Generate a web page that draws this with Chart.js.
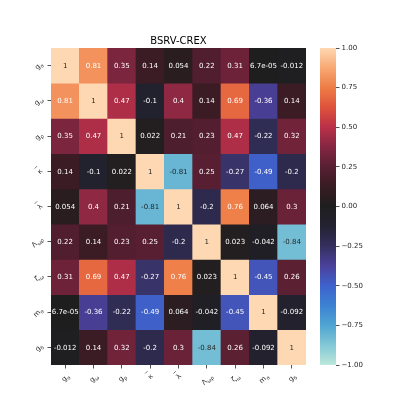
<!DOCTYPE html>
<html>
<head>
<meta charset="utf-8">
<script src="https://cdn.jsdelivr.net/npm/chart.js@4.4.1/dist/chart.umd.min.js"></script>
<style>
	body { margin: 0; background: #fff; }
	#wrap { position: relative; width: 408px; height: 408px; }
	#heat { position: absolute; left: 0; top: 0; }
	#cbar { position: absolute; left: 320px; top: 0; }
</style>
</head>
<body>
<div id="wrap">
	<canvas id="heat" width="408" height="408"></canvas>
	<canvas id="cbar" width="88" height="408"></canvas>
</div>
<script>
// parameter names: base letter, subscript, overbar
const paramBase = ["g", "g", "g", "κ", "λ", "Λ", "ζ", "m", "g"];
const paramSub = ["σ", "ω", "ρ", "", "", "ωρ", "ω", "σ", "δ"];
const paramBar = [false, false, false, true, true, false, false, false, false];
const paramKeys = paramBase.map((b, i) => b + paramSub[i]);

// correlation rows (top to bottom)
const row_gs = [1, 0.81, 0.35, 0.14, 0.054, 0.22, 0.31, 6.7e-05, -0.012];
const row_gw = [0.81, 1, 0.47, -0.1, 0.4, 0.14, 0.69, -0.36, 0.14];
const row_gr = [0.35, 0.47, 1, 0.022, 0.21, 0.23, 0.47, -0.22, 0.32];
const row_kappa = [0.14, -0.1, 0.022, 1, -0.81, 0.25, -0.27, -0.49, -0.2];
const row_lambda = [0.054, 0.4, 0.21, -0.81, 1, -0.2, 0.76, 0.064, 0.3];
const row_Lv = [0.22, 0.14, 0.23, 0.25, -0.2, 1, 0.023, -0.042, -0.84];
const row_zeta = [0.31, 0.69, 0.47, -0.27, 0.76, 0.023, 1, -0.45, 0.26];
const row_ms = [6.7e-05, -0.36, -0.22, -0.49, 0.064, -0.042, -0.45, 1, -0.092];
const row_gd = [-0.012, 0.14, 0.32, -0.2, 0.3, -0.84, 0.26, -0.092, 1];
const rows = [row_gs, row_gw, row_gr, row_kappa, row_lambda, row_Lv, row_zeta, row_ms, row_gd];

const cbarTicks = [-1, -0.75, -0.5, -0.25, 0, 0.25, 0.5, 0.75, 1];

// icefire-like colour stops
const stops = [
	[-1.0, [189, 231, 219]],
	[-0.875, [130, 200, 214]],
	[-0.75, [80, 165, 210]],
	[-0.625, [60, 130, 210]],
	[-0.5, [62, 98, 205]],
	[-0.375, [75, 65, 155]],
	[-0.25, [52, 48, 95]],
	[-0.125, [35, 34, 50]],
	[0.0, [31, 30, 30]],
	[0.125, [55, 28, 35]],
	[0.25, [88, 31, 50]],
	[0.375, [132, 38, 65]],
	[0.5, [186, 48, 72]],
	[0.625, [222, 82, 60]],
	[0.75, [238, 125, 70]],
	[0.875, [248, 168, 115]],
	[1.0, [254, 216, 178]]
];

function rgbFor(v) {
	v = Math.max(-1, Math.min(1, v));
	for (let k = 0; k < stops.length - 1; k++) {
		const a = stops[k], b = stops[k + 1];
		if (v <= b[0]) {
			const t = (v - a[0]) / (b[0] - a[0]);
			return a[1].map((c, n) => Math.round(c + t * (b[1][n] - c)));
		}
	}
	return stops[stops.length - 1][1];
}
function colorFor(v) {
	const c = rgbFor(v);
	return "rgb(" + c[0] + "," + c[1] + "," + c[2] + ")";
}
function textColorFor(v) {
	const lin = rgbFor(v).map(c => {
		c = c / 255;
		return c <= 0.03928 ? c / 12.92 : Math.pow((c + 0.055) / 1.055, 2.4);
	});
	const lum = 0.2126 * lin[0] + 0.7152 * lin[1] + 0.0722 * lin[2];
	return lum > 0.408 ? "#262626" : "#ffffff";
}
function fmt(v) {
	if (v !== 0 && Math.abs(v) < 1e-4) {
		const parts = v.toExponential(1).split("e");
		let ex = parts[1];
		const sign = ex[0] === "-" ? "-" : "+";
		ex = ex.replace(/[+-]/, "");
		if (ex.length < 2) ex = "0" + ex;
		return parts[0] + "e" + sign + ex;
	}
	return parseFloat(v.toPrecision(2)).toString();
}

Chart.defaults.font.family = "'DejaVu Sans', sans-serif";
Chart.defaults.color = "#262626";

const FONT = "'DejaVu Sans', sans-serif";

function drawParam(ctx, i, cx, cy, mode) {
	ctx.font = "7px " + FONT;
	const w1 = ctx.measureText(paramBase[i]).width;
	ctx.font = "5px " + FONT;
	const w2 = ctx.measureText(paramSub[i]).width;
	const w = w1 + w2;
	const h = 8;
	const s = (w + h) / Math.SQRT2;
	let px, py;
	if (mode === "y") {
		px = cx - s / 2;
		py = cy;
	} else {
		px = cx;
		py = cy + s / 2;
	}
	ctx.save();
	ctx.translate(px, py);
	ctx.rotate(-Math.PI / 4);
	ctx.fillStyle = "#262626";
	ctx.textAlign = "left";
	ctx.textBaseline = "alphabetic";
	ctx.font = "7px " + FONT;
	ctx.fillText(paramBase[i], -w / 2, 2.5);
	ctx.font = "5px " + FONT;
	ctx.fillText(paramSub[i], -w / 2 + w1, 4.5);
	if (paramBar[i]) {
		ctx.strokeStyle = "#262626";
		ctx.lineWidth = 0.6;
		ctx.beginPath();
		ctx.moveTo(-w / 2 + 0.5, -5.5);
		ctx.lineTo(-w / 2 + w1 - 0.3, -5.5);
		ctx.stroke();
	}
	ctx.restore();
}

const heatLabels = {
	id: "heatLabels",
	afterDatasetsDraw(chart) {
		const ctx = chart.ctx;
		ctx.save();
		ctx.font = "7px " + FONT;
		ctx.textAlign = "center";
		ctx.textBaseline = "middle";
		rows.forEach((row, i) => {
			const meta = chart.getDatasetMeta(i);
			meta.data.forEach((el, j) => {
				ctx.fillStyle = textColorFor(row[j]);
				ctx.fillText(fmt(row[j]), el.x, (el.y + el.base) / 2 + 0.5);
			});
		});
		ctx.restore();
	},
	afterDraw(chart) {
		const ctx = chart.ctx;
		const xs = chart.scales.x, ys = chart.scales.y;
		paramKeys.forEach((k, i) => {
			drawParam(ctx, i, xs.left - 7, ys.getPixelForValue(i + 0.5), "y");
			drawParam(ctx, i, xs.getPixelForValue(i), ys.bottom + 7, "x");
		});
	}
};

new Chart(document.getElementById("heat"), {
	type: "bar",
	data: {
		labels: paramKeys,
		datasets: rows.map((row, i) => ({
			label: paramKeys[i],
			data: row.map(() => 1),
			backgroundColor: row.map(colorFor),
			borderWidth: 0,
			barPercentage: 1,
			categoryPercentage: 1
		}))
	},
	options: {
		responsive: false,
		animation: false,
		layout: { padding: { left: 0, right: 102, top: 0, bottom: 0 } },
		plugins: {
			legend: { display: false },
			tooltip: { enabled: false },
			title: {
				display: true,
				text: "BSRV-CREX",
				fullSize: false,
				color: "#000",
				font: { size: 10, weight: "normal" },
				padding: { top: 35, bottom: 1 }
			}
		},
		scales: {
			x: {
				stacked: true,
				offset: true,
				border: { display: false },
				grid: { display: true, offset: false, drawOnChartArea: false, drawTicks: true, tickLength: 3.5, color: "#262626", lineWidth: 0.8 },
				ticks: { display: false },
				afterFit: s => { s.height = 43; }
			},
			y: {
				stacked: true,
				min: 0,
				max: 9,
				reverse: true,
				border: { display: false },
				grid: { display: true, drawOnChartArea: false, drawTicks: true, tickLength: 3.5, color: "#262626", lineWidth: 0.8 },
				ticks: { display: false },
				afterBuildTicks: s => { s.ticks = paramKeys.map((k, i) => ({ value: i + 0.5 })); },
				afterFit: s => { s.width = 51; }
			}
		}
	},
	plugins: [heatLabels]
});

function cbarGradient(context) {
	const chart = context.chart;
	const area = chart.chartArea;
	if (!area) return colorFor(0);
	const g = chart.ctx.createLinearGradient(0, area.bottom, 0, area.top);
	stops.forEach(s => {
		const c = s[1];
		g.addColorStop((s[0] + 1) / 2, "rgb(" + c[0] + "," + c[1] + "," + c[2] + ")");
	});
	return g;
}

new Chart(document.getElementById("cbar"), {
	type: "bar",
	data: {
		labels: ["cbar"],
		datasets: [{
			data: [[-1, 1]],
			backgroundColor: cbarGradient,
			borderWidth: 0,
			barPercentage: 1,
			categoryPercentage: 1
		}]
	},
	options: {
		responsive: false,
		animation: false,
		layout: { padding: { left: 0, right: 0, top: 48, bottom: 43 } },
		plugins: { legend: { display: false }, tooltip: { enabled: false } },
		scales: {
			x: { display: false },
			y: {
				position: "right",
				min: -1,
				max: 1,
				border: { display: false },
				grid: { display: true, drawOnChartArea: false, drawTicks: true, tickLength: 3.5, color: "#262626", lineWidth: 0.8 },
				ticks: {
					padding: 2,
					color: "#262626",
					font: { size: 7 },
					callback: v => (v < 0 ? "\u2212" : "") + Math.abs(v).toFixed(2)
				},
				afterBuildTicks: s => { s.ticks = cbarTicks.map(v => ({ value: v })); },
				afterFit: s => { s.width = 72; }
			}
		}
	}
});
</script>
</body>
</html>
